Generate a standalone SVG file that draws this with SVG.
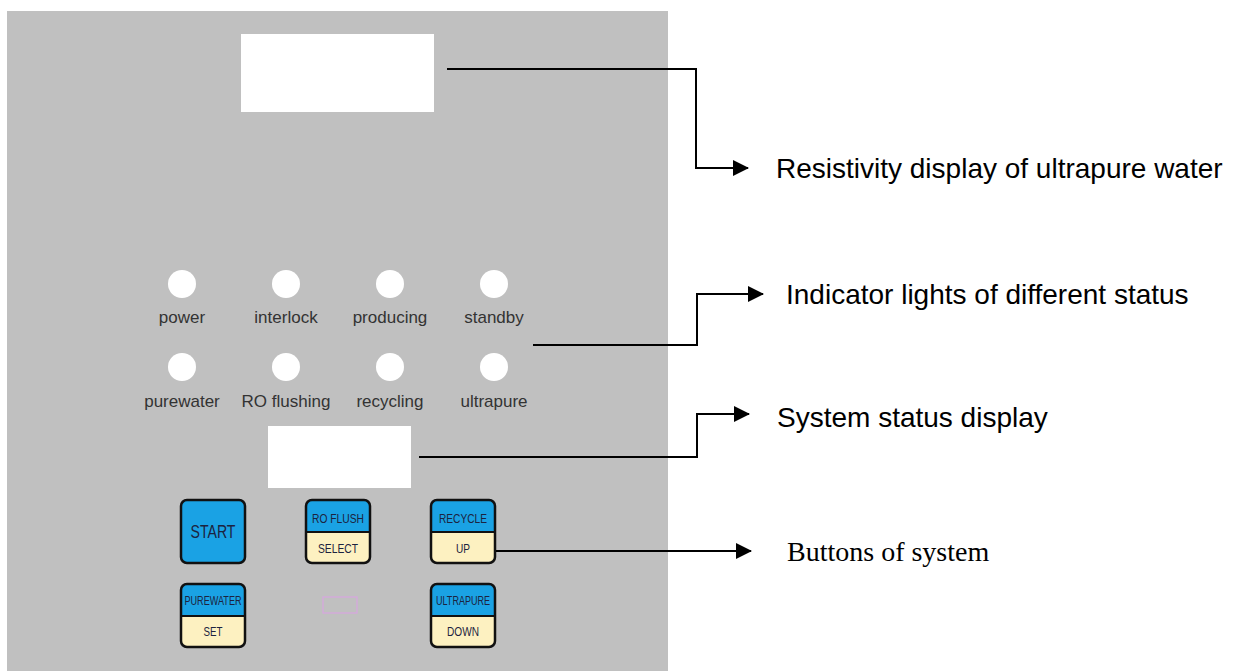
<svg xmlns="http://www.w3.org/2000/svg" width="1236" height="671" viewBox="0 0 1236 671">
<style>
.lbl{font-family:"Liberation Sans",Arial,sans-serif;font-size:17px;fill:#333;text-anchor:middle}
.btn{stroke:#111;stroke-width:2.5}
.blue{fill:#1aa2e4}
.cream{fill:#fdf1c1}
.bt{font-family:"Liberation Sans",Arial,sans-serif;fill:#1c2340;text-anchor:middle}
.note{font-family:"Liberation Sans",Arial,sans-serif;font-size:28px;fill:#000}
.conn{fill:none;stroke:#000;stroke-width:2}
.led{fill:#fff}
</style>
<defs>
<marker id="ah" markerUnits="userSpaceOnUse" markerWidth="16" markerHeight="16" refX="15" refY="8" orient="auto">
<path d="M0,0 L16,8 L0,16 z" fill="#000"/>
</marker>
<clipPath id="c1"><rect x="306" y="500" width="64" height="63" rx="6"/></clipPath>
<clipPath id="c2"><rect x="431" y="500" width="64" height="63" rx="6"/></clipPath>
<clipPath id="c3"><rect x="181" y="584" width="64" height="63" rx="6"/></clipPath>
<clipPath id="c4"><rect x="431" y="584" width="64" height="63" rx="6"/></clipPath>
</defs>
<rect width="1236" height="671" fill="#fff"/>
<g id="panel">
<rect x="7" y="11" width="661" height="660" fill="#c0c0c0"/>
</g>
<g id="resistivity-display"><rect x="241" y="34" width="193" height="78" fill="#fff"/></g>
<g id="status-display"><rect x="268" y="426" width="143" height="62" fill="#fff"/></g>
<g id="lights">
<g id="led-power"><circle class="led" cx="182" cy="284" r="14"/><text class="lbl" x="182" y="323">power</text></g>
<g id="led-interlock"><circle class="led" cx="286" cy="284" r="14"/><text class="lbl" x="286" y="323">interlock</text></g>
<g id="led-producing"><circle class="led" cx="390" cy="284" r="14"/><text class="lbl" x="390" y="323">producing</text></g>
<g id="led-standby"><circle class="led" cx="494" cy="284" r="14"/><text class="lbl" x="494" y="323">standby</text></g>
<g id="led-purewater"><circle class="led" cx="182" cy="367" r="14"/><text class="lbl" x="182" y="407">purewater</text></g>
<g id="led-roflushing"><circle class="led" cx="286" cy="367" r="14"/><text class="lbl" x="286" y="407">RO flushing</text></g>
<g id="led-recycling"><circle class="led" cx="390" cy="367" r="14"/><text class="lbl" x="390" y="407">recycling</text></g>
<g id="led-ultrapure"><circle class="led" cx="494" cy="367" r="14"/><text class="lbl" x="494" y="407">ultrapure</text></g>
</g>
<g id="btn-start">
<rect class="btn blue" x="181" y="500" width="64" height="63" rx="6"/>
<text class="bt" x="213" y="538" font-size="18" textLength="45" lengthAdjust="spacingAndGlyphs">START</text>
</g>
<g id="btn-roflush">
<g clip-path="url(#c1)"><rect class="blue" x="306" y="500" width="64" height="32"/><rect class="cream" x="306" y="532" width="64" height="31"/></g>
<line x1="306" y1="532" x2="370" y2="532" stroke="#111" stroke-width="2"/>
<rect x="306" y="500" width="64" height="63" rx="6" fill="none" class="btn"/>
<text class="bt" x="338" y="523" font-size="13" textLength="52" lengthAdjust="spacingAndGlyphs">RO FLUSH</text>
<text class="bt" x="338" y="553" font-size="13" textLength="40" lengthAdjust="spacingAndGlyphs">SELECT</text>
</g>
<g id="btn-recycle">
<g clip-path="url(#c2)"><rect class="blue" x="431" y="500" width="64" height="32"/><rect class="cream" x="431" y="532" width="64" height="31"/></g>
<line x1="431" y1="532" x2="495" y2="532" stroke="#111" stroke-width="2"/>
<rect x="431" y="500" width="64" height="63" rx="6" fill="none" class="btn"/>
<text class="bt" x="463" y="523" font-size="13" textLength="48" lengthAdjust="spacingAndGlyphs">RECYCLE</text>
<text class="bt" x="463" y="553" font-size="13" textLength="14" lengthAdjust="spacingAndGlyphs">UP</text>
</g>
<g id="btn-purewater">
<g clip-path="url(#c3)"><rect class="blue" x="181" y="584" width="64" height="32"/><rect class="cream" x="181" y="616" width="64" height="31"/></g>
<line x1="181" y1="616" x2="245" y2="616" stroke="#111" stroke-width="2"/>
<rect x="181" y="584" width="64" height="63" rx="6" fill="none" class="btn"/>
<text class="bt" x="213" y="605" font-size="13" textLength="57" lengthAdjust="spacingAndGlyphs">PUREWATER</text>
<text class="bt" x="213" y="636" font-size="13" textLength="19" lengthAdjust="spacingAndGlyphs">SET</text>
</g>
<g id="btn-ultrapure">
<g clip-path="url(#c4)"><rect class="blue" x="431" y="584" width="64" height="32"/><rect class="cream" x="431" y="616" width="64" height="31"/></g>
<line x1="431" y1="616" x2="495" y2="616" stroke="#111" stroke-width="2"/>
<rect x="431" y="584" width="64" height="63" rx="6" fill="none" class="btn"/>
<text class="bt" x="463" y="605" font-size="13" textLength="54" lengthAdjust="spacingAndGlyphs">ULTRAPURE</text>
<text class="bt" x="463" y="636" font-size="13" textLength="32" lengthAdjust="spacingAndGlyphs">DOWN</text>
</g>
<g id="indicator-small"><rect x="323" y="597" width="34" height="16" fill="none" stroke="#d7a6e0" stroke-width="1.2"/></g>
<g id="connectors">
<path class="conn" d="M447,69 H696 V168 H748" marker-end="url(#ah)"/>
<path class="conn" d="M533,345 H697 V294 H763" marker-end="url(#ah)"/>
<path class="conn" d="M419,457 H697 V414 H749" marker-end="url(#ah)"/>
<path class="conn" d="M496,551 H751" marker-end="url(#ah)"/>
</g>
<g id="labels">
<text class="note" x="776" y="178">Resistivity display of ultrapure water</text>
<text class="note" x="786" y="304">Indicator lights of different status</text>
<text class="note" x="777" y="427">System status display</text>
<text x="787" y="561" font-family="Liberation Serif,'Times New Roman',serif" font-size="28" fill="#000">Buttons of system</text>
</g>
</svg>
